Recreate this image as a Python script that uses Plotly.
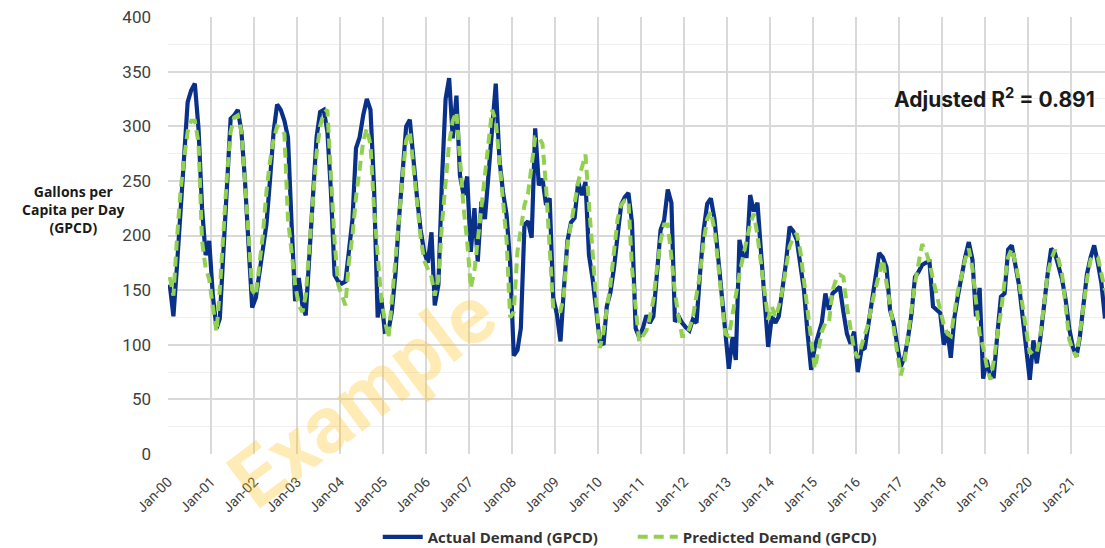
import pandas as pd
import plotly.graph_objects as go

# Monthly series, Jan-2000 .. Oct-2021
actual = [
    155, 126, 170, 220, 270, 322, 333, 339, 298, 225, 182, 195,
    145, 115, 124, 190, 255, 307, 310, 315, 295, 250, 190, 134,
    143, 165, 185, 210, 250, 295, 320, 315, 305, 290, 210, 140,
    161, 136, 127, 180, 235, 290, 313, 315, 295, 240, 164, 158,
    156, 158, 185, 215, 280, 290, 310, 325, 315, 245, 125, 143,
    112, 113, 130, 165, 215, 260, 300, 306, 265, 235, 205, 185,
    175, 203, 136, 155, 250, 325, 344, 289, 328, 255, 237, 254,
    185, 225, 176, 231, 215, 255, 305, 339, 270, 240, 219, 175,
    90, 95, 115, 210, 213, 198, 298, 246, 252, 228, 234, 143,
    128, 103, 150, 195, 212, 216, 249, 237, 249, 182, 160, 130,
    103, 100, 135, 148, 170, 200, 228, 235, 239, 212, 115, 107,
    115, 127, 120, 126, 170, 205, 214, 242, 230, 121, 126, 120,
    116, 113, 123, 120, 165, 205, 229, 234, 215, 180, 140, 104,
    78, 107, 86, 196, 181, 181, 237, 222, 230, 185, 135, 98,
    126, 120, 126, 150, 175, 208, 204, 196, 170, 150, 110, 77,
    98, 110, 120, 147, 132, 147, 150, 153, 130, 110, 101, 112,
    75, 95, 97, 118, 140, 160, 184, 180, 171, 132, 120, 100,
    80, 89, 105, 128, 162, 167, 173, 175, 176, 135, 132, 129,
    100, 112, 88, 125, 145, 165, 180, 194, 178, 126, 152, 69,
    86, 71, 71, 110, 144, 147, 187, 191, 170, 155, 126, 95,
    68, 104, 83, 107, 140, 165, 188, 184, 172, 160, 141, 115,
    98, 89, 107, 138, 165, 180, 191, 175, 156, 124,
]

predicted = [
    162, 145, 195, 240, 270, 295, 305, 305, 285, 195, 170, 160,
    135, 112, 150, 205, 255, 295, 308, 310, 295, 250, 200, 150,
    145, 172, 200, 240, 268, 288, 300, 298, 293, 215, 185, 155,
    136, 130, 145, 185, 232, 275, 300, 312, 315, 255, 195, 155,
    145, 136, 175, 200, 235, 262, 286, 298, 283, 225, 180, 142,
    122, 106, 140, 175, 215, 255, 287, 295, 262, 225, 198, 177,
    170, 162, 145, 160, 210, 250, 285, 305, 313, 270, 225, 195,
    152, 168, 195, 225, 250, 285, 315, 305, 270, 235, 195, 125,
    130, 185, 205, 228, 238, 265, 290, 290, 284, 245, 190, 133,
    131, 131, 145, 192, 210, 230, 249, 262, 274, 228, 180, 140,
    97, 112, 130, 155, 185, 215, 228, 232, 232, 170, 135, 103,
    108, 113, 125, 141, 170, 195, 210, 210, 180, 148, 125, 108,
    108, 115, 125, 145, 165, 195, 215, 222, 205, 175, 145, 110,
    108, 125, 145, 165, 182, 196, 210, 220, 200, 175, 148, 123,
    135, 125, 135, 150, 170, 190, 198, 202, 185, 160, 135, 108,
    78, 95, 112, 120, 120, 150, 160, 164, 162, 135, 112, 95,
    88, 100, 108, 120, 138, 150, 165, 178, 158, 136, 115, 93,
    72, 85, 108, 130, 156, 175, 192, 186, 175, 160, 146, 132,
    118, 110, 108, 130, 150, 163, 178, 188, 170, 140, 110, 98,
    80, 68, 85, 110, 130, 158, 180, 188, 175, 158, 135, 112,
    92, 95, 93, 110, 135, 165, 178, 187, 178, 165, 135, 105,
    95, 89, 110, 135, 160, 178, 181, 180, 165, 150,
]

months = pd.date_range("2000-01-01", periods=len(actual), freq="MS") + pd.Timedelta(days=15)
y_ticks = [0, 50, 100, 150, 200, 250, 300, 350, 400]

fig = go.Figure()
fig.add_trace(go.Scatter(
    x=months, y=actual, mode="lines", name="Actual Demand (GPCD)",
    line=dict(color="#0A3189", width=4.2),
))
fig.add_trace(go.Scatter(
    x=months, y=predicted, mode="lines", name="Predicted Demand (GPCD)",
    line=dict(color="#92D050", width=4, dash="10px,6px"),
))

fig.update_layout(
    width=1105, height=548,
    margin=dict(l=168, r=0, t=17, b=94, autoexpand=False),
    paper_bgcolor="white", plot_bgcolor="white",
    font=dict(family="Roboto, Arial, sans-serif", color="#404040"),
    showlegend=True,
    legend=dict(
        orientation="h", x=0.496, xanchor="center", y=-0.19, yanchor="middle",
        font=dict(size=15, color="#333333", family="Open Sans, Roboto, sans-serif", weight="bold"),
        itemwidth=40, tracegroupgap=0, entrywidth=200,
    ),
)

fig.update_xaxes(
    range=[pd.Timestamp("2000-01-01"), months[-1]],
    tickmode="linear", tick0="2000-01-01", dtick="M12", tickformat="%b-%y",
    tickangle=-45, tickfont=dict(size=14, color="#404040"),
    showgrid=True, gridcolor="#D9D9D9", gridwidth=1.5,
    showline=False, zeroline=False, ticks="", automargin=False, ticklabelstandoff=16,
)
fig.update_yaxes(
    range=[0, 400], tickvals=y_ticks,
    tickfont=dict(size=17, color="#404040"),
    showgrid=True, gridcolor="#D9D9D9", gridwidth=1.5,
    minor=dict(dtick=25, showgrid=True, gridcolor="#F0F0F0", gridwidth=1),
    zeroline=False, showline=False, ticks="", ticklabelstandoff=16, automargin=False,
)

fig.add_annotation(
    xref="paper", yref="paper", x=-0.101, y=0.56, xanchor="center", yanchor="middle",
    text="Gallons per<br>Capita per Day<br>(GPCD)", showarrow=False, align="center",
    font=dict(size=14, color="#1A1A1A", family="Open Sans, Roboto, sans-serif", weight="bold"),
)
fig.add_annotation(
    xref="paper", yref="paper", x=0.991, y=0.815, xanchor="right", yanchor="middle",
    text="Adjusted R<sup>2</sup> = 0.891", showarrow=False,
    font=dict(size=21, color="#1A1A1A", family="Inter, Roboto, sans-serif", weight="bold"),
)
fig.add_annotation(
    xref="paper", yref="paper", x=0.208, y=0.13, xanchor="center", yanchor="middle",
    text="Example", showarrow=False, textangle=-37,
    font=dict(size=80, color="rgba(255,195,30,0.33)", family="Roboto, Arial, sans-serif", weight="bold"),
)

fig.write_html(
    "out.html",
    config={"displayModeBar": False},
    post_script="document.body.style.margin='0';",
)
